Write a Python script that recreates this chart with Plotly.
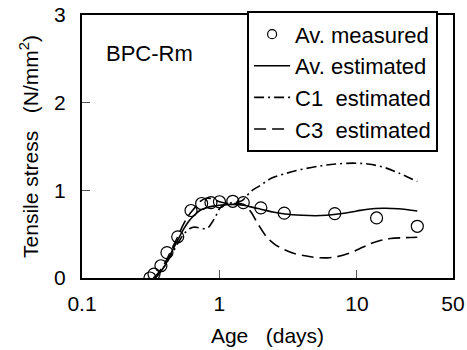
import plotly.graph_objects as go

# Measured averages
meas_age = [0.312, 0.334, 0.375, 0.415, 0.497, 0.621, 0.742, 0.867, 1.0, 1.25, 1.49, 2.0, 2.96, 6.9, 13.9, 27.5]
meas_val = [0.0, 0.045, 0.14, 0.29, 0.47, 0.77, 0.85, 0.86, 0.87, 0.875, 0.86, 0.80, 0.74, 0.735, 0.685, 0.59]

# Av. estimated
av_age = [0.34, 0.36, 0.40, 0.45, 0.5, 0.55, 0.6, 0.65, 0.72, 0.8, 0.9, 1.0, 1.25, 1.5, 1.8, 2.0, 2.5, 3.0, 4.0, 5.0, 6.0, 7.8, 10, 12, 15.5, 20, 27.5]
av_val = [0.0, 0.04, 0.14, 0.30, 0.44, 0.56, 0.65, 0.71, 0.77, 0.80, 0.82, 0.83, 0.84, 0.83, 0.80, 0.785, 0.75, 0.73, 0.715, 0.71, 0.715, 0.735, 0.765, 0.785, 0.795, 0.79, 0.765]

# C1 estimated
c1_age = [0.34, 0.37, 0.40, 0.43, 0.46, 0.50, 0.55, 0.61, 0.66, 0.72, 0.81, 0.88, 0.95, 1.01, 1.1, 1.25, 1.45, 1.7, 2.0, 2.4, 3.0, 4.0, 5.5, 7.0, 9.5, 12, 15.5, 20, 27.5]
c1_val = [0.0, 0.07, 0.14, 0.22, 0.30, 0.40, 0.50, 0.565, 0.58, 0.57, 0.565, 0.63, 0.72, 0.80, 0.84, 0.86, 0.88, 0.99, 1.06, 1.14, 1.19, 1.24, 1.28, 1.30, 1.31, 1.30, 1.265, 1.20, 1.10]

# C3 estimated
c3_age = [0.33, 0.36, 0.40, 0.45, 0.5, 0.55, 0.6, 0.66, 0.72, 0.8, 0.9, 1.0, 1.15, 1.3, 1.5, 1.7, 1.9, 2.2, 2.5, 2.9, 3.5, 4.3, 5.0, 6.0, 7.0, 9.0, 11, 12.5, 15, 17.5, 22, 27.5]
c3_val = [0.0, 0.06, 0.17, 0.33, 0.48, 0.62, 0.72, 0.80, 0.87, 0.91, 0.90, 0.87, 0.85, 0.85, 0.84, 0.75, 0.62, 0.47, 0.39, 0.33, 0.28, 0.25, 0.235, 0.23, 0.24, 0.29, 0.35, 0.39, 0.43, 0.45, 0.46, 0.465]

x_ticks = [0.1, 1, 10, 50]
x_tick_labels = ["0.1", "1", "10", "50"]
y_ticks = [0, 1, 2, 3]

FONT = "Liberation Sans, Arial, sans-serif"
fs = 21

fig = go.Figure()
fig.add_trace(go.Scatter(x=meas_age, y=meas_val, mode="markers", name="Av. measured",
                         legendgroup="a", showlegend=False,
                         marker=dict(symbol="circle-open", size=12, color="black", line=dict(width=1.2, color="black"))))
# legend-only entry with the smaller legend symbol
fig.add_trace(go.Scatter(x=[None], y=[None], mode="markers", name="Av. measured",
                         legendgroup="a", showlegend=True,
                         marker=dict(symbol="circle-open", size=9, color="black", line=dict(width=1.2, color="black"))))
fig.add_trace(go.Scatter(x=av_age, y=av_val, mode="lines", name="Av. estimated", legendgroup="b",
                         line=dict(color="black", width=1.6, shape="spline")))
fig.add_trace(go.Scatter(x=c1_age, y=c1_val, mode="lines", name="C1  estimated", legendgroup="c",
                         line=dict(color="black", width=1.6, dash="10px,4px,2px,4px", shape="spline")))
fig.add_trace(go.Scatter(x=c3_age, y=c3_val, mode="lines", name="C3  estimated", legendgroup="d",
                         line=dict(color="black", width=1.6, dash="12px,6px", shape="spline")))

fig.update_layout(
    width=467, height=350,
    margin=dict(l=82, r=14, t=14, b=72),
    paper_bgcolor="white", plot_bgcolor="white",
    font=dict(family=FONT, size=fs, color="black"),
    showlegend=True,
    legend=dict(x=0.445, y=1.01, xanchor="left", yanchor="top",
                bordercolor="black", borderwidth=2, bgcolor="white",
                font=dict(family=FONT, size=22), tracegroupgap=0, itemwidth=36,
                traceorder="grouped"),
    annotations=[dict(text="BPC-Rm", x=0.058, y=0.855, xref="paper", yref="paper",
                      xanchor="left", yanchor="middle", showarrow=False,
                      font=dict(family=FONT, size=22))],
)
fig.update_xaxes(type="log", range=[-1, 1.69897], tickvals=x_ticks, ticktext=x_tick_labels,
                 ticks="inside", ticklen=8, tickcolor="#555", tickwidth=1,
                 showline=True, linecolor="black", linewidth=2, mirror=True,
                 showgrid=False, zeroline=False, automargin=False,
                 title=dict(text="Age   (days)", font=dict(family=FONT, size=fs), standoff=14),
                 ticklabelstandoff=6)
fig.update_yaxes(range=[0, 3], tickvals=y_ticks,
                 ticks="inside", ticklen=8, tickcolor="#555", tickwidth=1,
                 showline=True, linecolor="black", linewidth=2, mirror=True,
                 showgrid=False, zeroline=False, automargin=False,
                 title=dict(text="Tensile stress   (N/mm<sup>2</sup>)", font=dict(family=FONT, size=fs), standoff=10),
                 ticklabelstandoff=10)

# remove the browser's default 8px page margin so the figure fills the window
fig.write_html("out.html", config={"displayModeBar": False},
               post_script="document.body.style.margin='0px';")
